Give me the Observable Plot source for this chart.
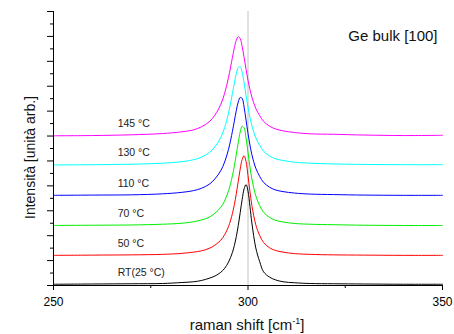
<!DOCTYPE html>
<html><head><meta charset="utf-8">
<script src="https://cdn.jsdelivr.net/npm/d3@7"></script>
<script src="https://cdn.jsdelivr.net/npm/@observablehq/plot@0.6"></script>
<style>html,body{margin:0;padding:0;background:#fff;}</style>
</head><body><div id="chart"></div>
<script>
// Raman shift samples (cm^-1)
const ramanShift = [250, 260, 270, 278, 283, 286, 288, 290, 291.5, 293, 294, 295, 296, 296.5, 297, 297.5, 298, 298.5, 299, 299.5, 300, 300.5, 301, 302, 303, 304, 305.5, 307, 309, 312, 316, 322, 330, 340, 350];

// Offset intensity curves (arb. units)
const seriesRT = [0.05, 0.06, 0.07, 0.08, 0.12, 0.15, 0.20, 0.29, 0.38, 0.53, 0.69, 0.94, 1.33, 1.61, 1.97, 2.41, 2.93, 3.46, 3.88, 4.05, 3.79, 3.18, 2.51, 1.51, 0.96, 0.55, 0.34, 0.23, 0.15, 0.11, 0.08, 0.07, 0.06, 0.05, 0.05];
const series50 = [1.21, 1.22, 1.23, 1.25, 1.29, 1.34, 1.39, 1.49, 1.62, 1.82, 2.04, 2.37, 2.89, 3.25, 3.69, 4.18, 4.68, 5.06, 5.21, 4.97, 4.41, 3.77, 3.21, 2.44, 2.01, 1.73, 1.52, 1.41, 1.34, 1.28, 1.25, 1.23, 1.22, 1.21, 1.21];
const series70 = [2.41, 2.42, 2.43, 2.46, 2.50, 2.56, 2.63, 2.74, 2.90, 3.14, 3.40, 3.80, 4.41, 4.81, 5.27, 5.75, 6.16, 6.39, 6.33, 5.92, 5.34, 4.76, 4.28, 3.60, 3.21, 2.94, 2.74, 2.62, 2.55, 2.49, 2.46, 2.44, 2.42, 2.41, 2.41];
const series110 = [3.62, 3.63, 3.64, 3.68, 3.74, 3.81, 3.90, 4.06, 4.28, 4.61, 4.96, 5.47, 6.19, 6.61, 7.03, 7.37, 7.55, 7.51, 7.16, 6.64, 6.11, 5.64, 5.25, 4.71, 4.38, 4.14, 3.95, 3.84, 3.77, 3.71, 3.67, 3.65, 3.63, 3.62, 3.62];
const series130 = [4.84, 4.85, 4.87, 4.91, 4.97, 5.05, 5.15, 5.33, 5.57, 5.94, 6.34, 6.93, 7.71, 8.14, 8.51, 8.75, 8.79, 8.56, 8.13, 7.63, 7.16, 6.75, 6.41, 5.93, 5.63, 5.39, 5.21, 5.09, 5.02, 4.95, 4.91, 4.88, 4.86, 4.85, 4.85];
const series145 = [6.01, 6.02, 6.05, 6.10, 6.17, 6.25, 6.37, 6.57, 6.84, 7.27, 7.72, 8.36, 9.16, 9.55, 9.85, 9.99, 9.91, 9.59, 9.15, 8.68, 8.24, 7.87, 7.56, 7.11, 6.82, 6.59, 6.40, 6.29, 6.21, 6.14, 6.09, 6.07, 6.04, 6.02, 6.03];

const seriesNames = ["RT(25 °C)", "50 °C", "70 °C", "110 °C", "130 °C", "145 °C"];
const seriesColors = ["#000000", "#ff0000", "#00ee00", "#0000ff", "#00ffff", "#ff00ff"];
const seriesValues = [seriesRT, series50, series70, series110, series130, series145];

const xMajorTicks = [250, 300, 350];
const xMinorTicks = [275, 325];
const yMajorTicks = d3.range(0, 11.5, 1);
const yMinorTicks = d3.range(0.5, 11, 1);
const referenceLine = [300];
const titleText = "Ge bulk [100]";
const xLabel = "raman shift [cm";
const yLabel = "Intensità [unità arb.]";

const table = seriesNames.flatMap((name, i) =>
  ramanShift.map((x, j) => ({name, x, y: seriesValues[i][j]})));
const labels = seriesNames.map((name, i) => ({name, y: seriesValues[i][0]}));

const svg = Plot.plot({
  width: 454, height: 334,
  marginLeft: 53, marginRight: 12, marginTop: 11, marginBottom: 49,
  style: {fontFamily: "'Liberation Sans', Arial, sans-serif", fontSize: "12px", color: "#000", background: "#fff"},
  x: {domain: [250, 350], label: null},
  y: {domain: [0, 11], label: null},
  color: {domain: seriesNames, range: seriesColors},
  marks: [
    Plot.ruleX(referenceLine, {stroke: "#c4c4c4", strokeWidth: 1}),
    Plot.line(table, {x: "x", y: "y", z: "name", stroke: "name", strokeWidth: 1, curve: "catmull-rom"}),
    Plot.text(labels, {x: 266.5, y: "y", dy: -12, text: "name", textAnchor: "start", fontSize: 10.5, fill: "#222"}),
    Plot.text([titleText], {frameAnchor: "top-right", textAnchor: "end", lineAnchor: "top", dx: -5, dy: 19, fontSize: 15, fill: "#111"}),
    Plot.axisY({ticks: yMajorTicks, tickSize: 6, tickFormat: () => "", label: null}),
    Plot.axisY({ticks: yMinorTicks, tickSize: 3, tickFormat: () => "", label: null}),
    Plot.axisX({ticks: xMajorTicks, tickSize: 5, tickPadding: 7, label: null, fontSize: 12}),
    Plot.axisX({ticks: xMinorTicks, tickSize: 3, tickFormat: () => "", label: null}),
    Plot.ruleX([250]),
    Plot.ruleY([0])
  ]
});

const s = d3.select(svg);
s.append("text")
  .attr("transform", "translate(34.5,157.5) rotate(-90)")
  .attr("text-anchor", "middle")
  .attr("font-size", 14)
  .attr("fill", "#111")
  .text(yLabel);
const xl = s.append("text")
  .attr("x", 247).attr("y", 329.5)
  .attr("text-anchor", "middle")
  .attr("font-size", 15)
  .attr("fill", "#111");
xl.append("tspan").text(xLabel);
xl.append("tspan").attr("dy", -6).attr("font-size", 9).text("-1");
xl.append("tspan").attr("dy", 6).text("]");

document.getElementById("chart").append(svg);
</script></body></html>
